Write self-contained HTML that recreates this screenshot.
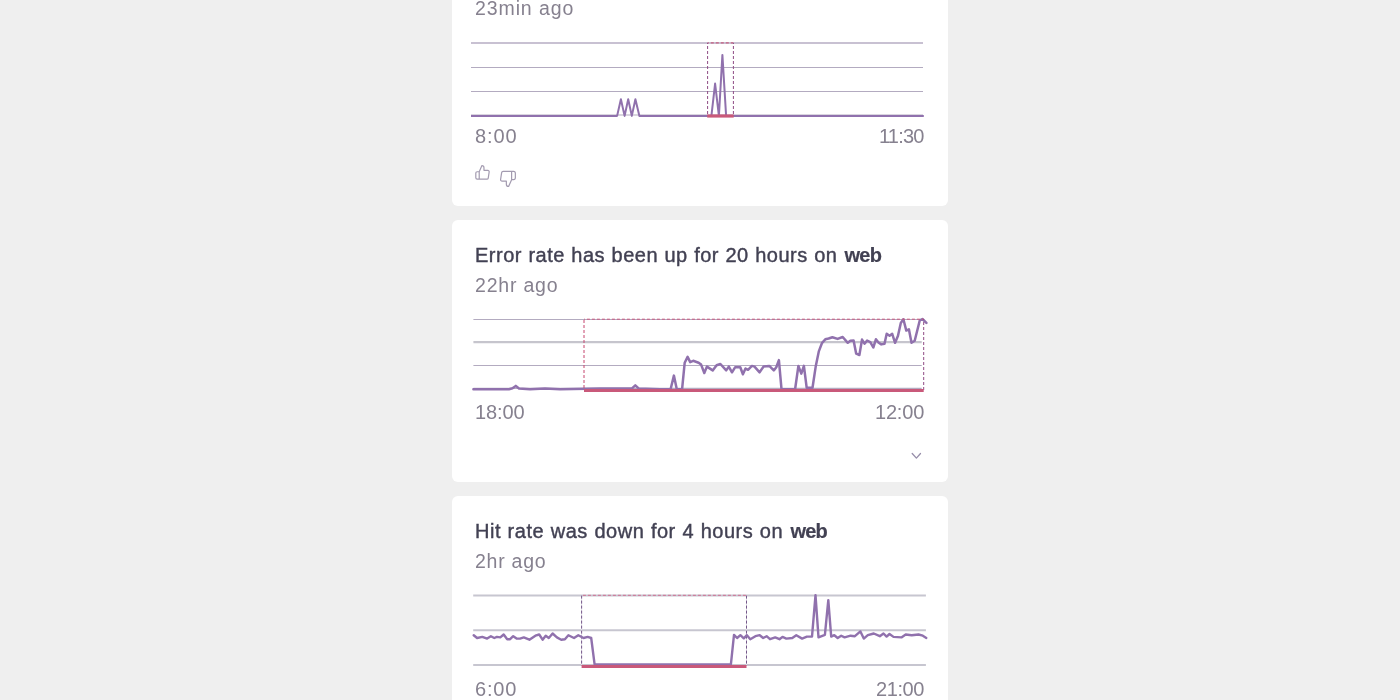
<!DOCTYPE html>
<html lang="en"><head><meta charset="utf-8"><title>Insights</title>
<style>
html,body{margin:0;padding:0}
body{width:1400px;height:700px;overflow:hidden;background:#efefef;position:relative;font-family:"Liberation Sans",sans-serif}
.card{position:absolute;left:452px;width:496px;height:262px;background:#fff;border-radius:6px}
.t{position:absolute;white-space:nowrap;line-height:1;margin:0;will-change:transform;-webkit-font-smoothing:antialiased}
.title{font-size:20px;color:#424153;letter-spacing:0.5px;word-spacing:0.6px;-webkit-text-stroke:0.4px #424153}
.title b{font-weight:700;letter-spacing:-0.75px;margin-left:0.6px;-webkit-text-stroke:0.2px #424153}
.sub{font-size:19.5px;color:#86818f;letter-spacing:0.75px}
.tm{font-size:20px;color:#86818f}
.charts{position:absolute;left:0;top:0}
</style></head><body>
<div class="card" style="top:-56px"></div>
<div class="card" style="top:220px"></div>
<div class="card" style="top:496px"></div>
<svg class="charts" width="1400" height="700" viewBox="0 0 1400 700"><line x1="471" y1="43.0" x2="923" y2="43.0" stroke="#b6acc3" stroke-width="1.4"/><line x1="471" y1="67.5" x2="923" y2="67.5" stroke="#b3abc0" stroke-width="1.2"/><line x1="471" y1="91.5" x2="923" y2="91.5" stroke="#b3abc0" stroke-width="1.2"/><line x1="471" y1="115.0" x2="923" y2="115.0" stroke="#b3abc0" stroke-width="1.2"/><path d="M471.0,115.9 L617.1,115.9 L620.9,99.3 L624.6,115.9 L628.2,99.3 L631.8,115.9 L635.4,99.3 L639.4,115.9 L711.4,115.9 L715.1,83.6 L718.9,115.9 L722.4,54.9 L726.1,115.9 L923.8,115.9" fill="none" stroke="#9071ad" stroke-width="2" stroke-linejoin="round"/><path d="M707.6,42.9 H733.4" fill="none" stroke-width="1" stroke-dasharray="3 2" stroke="#c6476e" stroke-dashoffset="1.8"/><path d="M707.6,42.9 V116 M733.4,42.9 V116" fill="none" stroke-width="1" stroke-dasharray="3 2" stroke="#8f4a84" stroke-dashoffset="1.9"/><line x1="707.2" y1="116" x2="733.7" y2="116" stroke="#c9597a" stroke-width="3.2"/><line x1="473.4" y1="319.5" x2="921.7" y2="319.5" stroke="#b3abc0" stroke-width="1.2"/><line x1="473.4" y1="342.05" x2="921.7" y2="342.05" stroke="#c6c5cd" stroke-width="2.2"/><line x1="473.4" y1="365.5" x2="921.7" y2="365.5" stroke="#b3abc0" stroke-width="1.2"/><line x1="473.4" y1="388.4" x2="921.7" y2="388.4" stroke="#b3abc0" stroke-width="1.2"/><path d="M473.4,389.2 L509.0,389.2 L512.5,388.3 L515.8,385.9 L519.0,388.5 L530.0,389.2 L545.0,388.4 L560.0,389.2 L600.0,388.5 L628.0,388.6 L632.0,388.3 L635.3,385.3 L638.6,388.4 L660.0,389.2 L670.6,389.2 L673.9,375.6 L676.8,389.2 L682.1,389.2 L684.7,362.7 L687.6,356.9 L690.2,362.1 L693.2,360.8 L698.6,362.7 L701.1,364.6 L704.3,373.0 L706.9,366.6 L712.7,370.4 L716.6,365.3 L720.4,364.0 L726.2,370.4 L728.8,366.6 L732.0,372.3 L735.2,367.2 L740.3,367.2 L742.9,374.3 L745.5,368.5 L748.0,369.8 L751.9,365.9 L754.5,366.6 L759.6,372.3 L763.5,366.6 L769.3,365.9 L773.8,370.4 L776.3,367.2 L778.9,360.1 L781.5,389.2 L795.1,389.2 L798.4,365.9 L801.3,373.6 L803.9,365.9 L806.7,387.8 L812.5,387.8 L815.7,366.6 L818.9,351.1 L822.1,342.8 L825.3,339.3 L828.6,338.5 L832.4,337.2 L837.6,338.9 L842.7,337.0 L847.8,342.8 L850.4,340.8 L853.6,340.6 L856.2,353.7 L859.4,355.0 L862.0,339.6 L864.5,343.7 L867.1,340.6 L870.3,342.1 L873.3,347.5 L875.9,339.3 L878.7,342.8 L881.3,344.4 L884.5,343.7 L886.7,333.8 L889.6,335.7 L892.2,333.8 L895.1,342.8 L898.0,335.7 L900.8,322.9 L903.4,319.3 L906.3,330.6 L908.9,329.3 L911.5,342.8 L914.7,340.8 L919.8,320.3 L922.4,319.0 L926.4,322.9" fill="none" stroke="#9071ad" stroke-width="2.5" stroke-linejoin="round" stroke-linecap="round"/><path d="M584,319.2 H923.7" fill="none" stroke-width="1" stroke-dasharray="3 2" stroke="#ca587d" stroke-dashoffset="2.1"/><path d="M584,320 V390" fill="none" stroke-width="1" stroke-dasharray="3 2" stroke="#c6476e"/><path d="M923.7,390 V319.2" fill="none" stroke-width="1" stroke-dasharray="3 2" stroke="#8f4a84"/><line x1="584" y1="390.5" x2="923.7" y2="390.5" stroke="#c9597a" stroke-width="3"/><line x1="473.2" y1="595.45" x2="925.9" y2="595.45" stroke="#c7c6d0" stroke-width="2.1"/><line x1="473.2" y1="630.2" x2="925.9" y2="630.2" stroke="#c7c6d0" stroke-width="2.1"/><line x1="473.2" y1="665.0" x2="925.9" y2="665.0" stroke="#c7c6d0" stroke-width="2.1"/><path d="M581.6,595.6 V666 M746.5,595.6 V666" fill="none" stroke="#e3e1e8" stroke-width="1"/><path d="M581.6,595.3 H746.5" fill="none" stroke-width="1" stroke-dasharray="3 2" stroke="#d06e92" stroke-dashoffset="3.7"/><path d="M581.6,595.6 V666 M746.5,595.6 V666" fill="none" stroke-width="1" stroke-dasharray="3 2" stroke="#75588a"/><path d="M473.7,635.2 L477.1,638.0 L482.3,636.9 L487.1,638.6 L490.9,636.2 L494.3,638.0 L496.9,636.9 L500.3,637.4 L503.7,634.5 L507.2,639.2 L510.1,639.2 L513.2,636.2 L516.6,638.6 L520.0,638.6 L523.8,637.4 L529.4,639.7 L535.4,635.7 L539.2,634.5 L542.6,639.7 L545.7,635.7 L548.8,638.0 L552.6,633.5 L556.9,637.4 L561.2,639.7 L564.9,639.2 L568.4,635.2 L574.0,638.0 L578.3,635.2 L583.5,638.0 L587.7,636.9 L591.2,638.0 L594.6,664.4 L730.9,664.4 L734.0,634.9 L737.1,638.0 L740.4,635.2 L743.8,638.3 L746.9,635.2 L750.3,639.2 L755.4,636.2 L759.7,635.2 L763.2,638.0 L766.6,636.2 L770.0,639.2 L775.2,637.4 L779.5,639.2 L782.5,636.9 L786.3,638.6 L792.3,638.0 L796.3,635.2 L802.1,638.6 L806.9,636.6 L812.0,636.6 L815.5,595.1 L818.5,637.4 L824.9,634.9 L828.3,600.2 L831.2,636.6 L834.3,635.2 L837.7,638.0 L841.2,635.7 L844.6,637.4 L850.6,635.7 L854.9,636.2 L860.4,631.4 L863.8,638.6 L867.8,635.2 L873.8,633.5 L879.8,636.2 L883.5,633.5 L886.6,636.6 L889.5,634.0 L893.5,636.9 L901.4,637.4 L905.7,634.5 L911.7,635.2 L918.5,634.5 L922.8,635.7 L926.3,637.9" fill="none" stroke="#9071ad" stroke-width="2.4" stroke-linejoin="round" stroke-linecap="round"/><line x1="581.6" y1="666.5" x2="746.5" y2="666.5" stroke="#c9597a" stroke-width="3"/><g fill="none" stroke="#a39bb0" stroke-linecap="round" stroke-linejoin="round"><g transform="translate(474.45,164.24) scale(0.68)" stroke-width="1.75"><path d="M14 9V5a3 3 0 0 0-3-3l-4 9v11h11.28a2 2 0 0 0 2-1.7l1.38-9a2 2 0 0 0-2-2.3zM7 22H4a2 2 0 0 1-2-2v-7a2 2 0 0 1 2-2h3"/></g><g transform="translate(498.85,169.9) scale(0.75)" stroke-width="1.6"><path d="M10 15v4a3 3 0 0 0 3 3l4-9V2H5.72a2 2 0 0 0-2 1.7l-1.38 9a2 2 0 0 0 2 2.3zm7-13h2.67A2.31 2.31 0 0 1 22 4v7a2.31 2.31 0 0 1-2.33 2H17"/></g></g><polyline points="912.2,453.5 916.4,458.1 920.5,453.5" fill="none" stroke="#978eaa" stroke-width="1.3" stroke-linecap="round" stroke-linejoin="round"/></svg>
<div class="t sub" id="s1" style="left:475px;top:-1px;letter-spacing:0.9px">23min ago</div>
<div class="t tm" id="a1" style="left:474.6px;top:126px;letter-spacing:0.9px">8:00</div>
<div class="t tm" id="b1" style="left:879.4px;top:126px;letter-spacing:-0.8px">11:30</div>

<div class="t title" id="t2" style="left:475px;top:245px;word-spacing:0.4px">Error rate has been up for 20 hours on <b>web</b></div>
<div class="t sub" id="s2" style="left:475px;top:276px;letter-spacing:0.8px">22hr ago</div>
<div class="t tm" id="a2" style="left:475px;top:402px;letter-spacing:-0.1px">18:00</div>
<div class="t tm" id="b2" style="left:874.6px;top:402px;letter-spacing:-0.2px">12:00</div>

<div class="t title" id="t3" style="left:475px;top:521px">Hit rate was down for 4 hours on <b>web</b></div>
<div class="t sub" id="s3" style="left:475px;top:552px;letter-spacing:0.75px">2hr ago</div>
<div class="t tm" id="a3" style="left:475px;top:679px;letter-spacing:0.8px">6:00</div>
<div class="t tm" id="b3" style="left:876.4px;top:679px;letter-spacing:-0.4px">21:00</div>
</body></html>
